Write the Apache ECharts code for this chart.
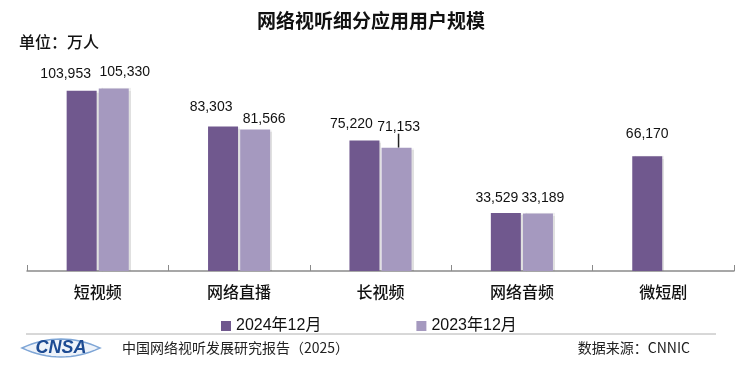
<!DOCTYPE html>
<html>
<head>
<meta charset="utf-8">
<script src="https://cdn.jsdelivr.net/npm/echarts@6/dist/echarts.min.js"></script>
<style>
  html, body { margin: 0; padding: 0; background: #fff; }
  #chart { width: 742px; height: 378px; }
</style>
</head>
<body>
<div id="chart"></div>
<script>
const categories = ['短视频', '网络直播', '长视频', '网络音频', '微短剧']
const seriesNames = ['2024年12月', '2023年12月']
const users2024 = [103953, 83303, 75220, 33529, 66170]
const users2023 = [105330, 81566, 71153, 33189, '-']

// hand nudges for the value labels, like the original slide
const nudge2024 = [[-16, -5], [-12, -7], [-13, -4], [-9, -3], [0, -10]]
const nudge2023 = [[11, -4], [9, 2], [2, -9], [5, -3], [0, 0]]

const FONT = '"Liberation Sans", Arial, "Noto Sans CJK SC", sans-serif'
const CJK = '"Noto Sans CJK SC", "Liberation Sans", sans-serif'
const C1 = '#70588e'
const C2 = '#a599bf'

const chart = echarts.init(document.getElementById('chart'))

function fmt(p) {
  return Number(p.value).toLocaleString('en-US')
}

function makeLayout(nudges) {
  return function (params) {
    const n = nudges[params.dataIndex] || [0, 0]
    return { dx: n[0], dy: n[1] }
  }
}

// lens outline for the CNSA logo
function eyePoints(x0, x1, cy, h) {
  const pts = []
  const steps = 16
  for (let i = 0; i <= steps; i++) {
    const t = i / steps
    pts.push([x0 + (x1 - x0) * t, cy - h * 4 * t * (1 - t)])
  }
  for (let i = steps - 1; i > 0; i--) {
    const t = i / steps
    pts.push([x0 + (x1 - x0) * t, cy + h * 4 * t * (1 - t)])
  }
  return pts
}

const data2023 = users2023.map((v, i) => {
  if (i === 2) return { value: v, labelLine: { show: true } }
  return v
})

const barStyle = {
  shadowColor: 'rgba(0,0,0,0.12)',
  shadowOffsetX: 2,
  shadowBlur: 1,
}

chart.setOption({
  animation: false,
  title: {
    text: '网络视听细分应用用户规模',
    left: 'center',
    top: 6,
    textStyle: { fontFamily: CJK, fontSize: 19, fontWeight: 'bold', color: '#111' },
  },
  legend: {
    data: seriesNames,
    left: 216,
    top: 313,
    itemWidth: 10,
    itemHeight: 10,
    itemGap: 95,
    icon: 'rect',
    textStyle: { fontFamily: FONT, fontSize: 16, color: '#111' },
  },
  grid: { left: 27, right: 8, top: 63, bottom: 107 },
  xAxis: {
    type: 'category',
    data: categories,
    axisLine: { lineStyle: { color: '#8a8a8a', width: 1.5 } },
    axisTick: { show: true, inside: true, length: 6, lineStyle: { color: '#8a8a8a' } },
    axisLabel: { margin: 13, fontFamily: CJK, fontSize: 16, fontWeight: 500, color: '#111' },
  },
  yAxis: {
    type: 'value',
    min: 0,
    max: 120000,
    show: false,
    splitLine: { show: false },
  },
  series: [
    {
      name: seriesNames[0],
      type: 'bar',
      data: users2024,
      barWidth: 30,
      barGap: '7%',
      itemStyle: Object.assign({ color: C1 }, barStyle),
      label: {
        show: true,
        position: 'top',
        distance: 5,
        formatter: fmt,
        fontFamily: FONT,
        fontSize: 14,
        color: '#111',
      },
      labelLayout: makeLayout(nudge2024),
    },
    {
      name: seriesNames[1],
      type: 'bar',
      data: data2023,
      barWidth: 30,
      itemStyle: Object.assign({ color: C2 }, barStyle),
      label: {
        show: true,
        position: 'top',
        distance: 5,
        formatter: fmt,
        fontFamily: FONT,
        fontSize: 14,
        color: '#111',
      },
      labelLine: { show: false, lineStyle: { color: '#222', width: 1.5 } },
      labelLayout: makeLayout(nudge2023),
    },
  ],
  graphic: [
    {
      type: 'text',
      x: 19,
      y: 42,
      style: { text: '单位：万人', fontFamily: CJK, fontSize: 16, fontWeight: 500, fill: '#111', verticalAlign: 'middle' },
    },
    {
      type: 'line',
      shape: { x1: 26, y1: 334, x2: 716, y2: 334 },
      style: { stroke: '#b0b0b0', lineWidth: 1 },
    },
    {
      type: 'polygon',
      shape: { points: eyePoints(22, 100, 348, 9) },
      style: { fill: '#eef3fa', stroke: '#7fa6d6', lineWidth: 1.5 },
    },
    {
      type: 'text',
      x: 61,
      y: 348,
      style: {
        text: 'CNSA',
        fontFamily: '"Liberation Sans", Arial, sans-serif',
        fontSize: 18,
        fontWeight: 'bold',
        fontStyle: 'italic',
        fill: '#1d4b93',
        align: 'center',
        verticalAlign: 'middle',
      },
    },
    {
      type: 'text',
      x: 122,
      y: 348,
      style: {
        text: '中国网络视听发展研究报告（2025）',
        fontFamily: CJK,
        fontSize: 14,
        fill: '#222',
        verticalAlign: 'middle',
      },
    },
    {
      type: 'text',
      x: 690,
      y: 348,
      style: {
        text: '数据来源：CNNIC',
        fontFamily: CJK,
        fontSize: 14,
        fill: '#222',
        align: 'right',
        verticalAlign: 'middle',
      },
    },
  ],
})
</script>
</body>
</html>
